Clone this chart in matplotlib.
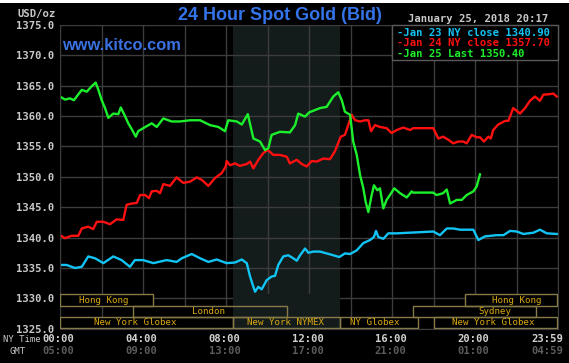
import matplotlib
matplotlib.use("Agg")
import matplotlib.pyplot as plt
from matplotlib.patches import Rectangle

# --- data (hours NY time, price) ---
jan23_t = [0.00, 0.32, 0.72, 1.05, 1.36, 1.69, 2.09, 2.57, 2.97, 3.37, 3.61, 4.01, 4.50, 5.14,
           5.62, 5.87, 6.35, 6.75, 7.15, 7.55, 8.03, 8.43, 8.76, 9.00, 9.16, 9.32, 9.40, 9.56,
           9.72, 9.96, 10.20, 10.36, 10.52, 10.76, 11.00, 11.24, 11.41, 11.57, 11.81, 11.97,
           12.21, 12.53, 12.85, 13.17, 13.46, 13.73, 13.98, 14.30, 14.62, 14.94, 15.13, 15.23,
           15.34, 15.58, 15.82, 16.23, 17.99, 18.31, 18.64, 18.95, 19.28, 19.92, 20.16, 20.48,
           21.05, 21.37, 21.69, 22.01, 22.33, 22.81, 23.13, 23.46, 23.94]
jan23_v = [1335.5, 1335.5, 1335.0, 1335.2, 1336.9, 1336.6, 1335.8, 1336.9, 1336.3, 1335.2,
           1336.3, 1336.3, 1335.8, 1336.3, 1336.0, 1336.6, 1337.3, 1336.6, 1336.0, 1336.4,
           1335.8, 1335.9, 1336.4, 1335.8, 1333.6, 1331.9, 1331.1, 1331.9, 1331.5, 1333.0,
           1333.6, 1333.7, 1335.5, 1336.9, 1337.1, 1336.6, 1336.2, 1337.1, 1338.2, 1337.5,
           1337.7, 1337.7, 1337.4, 1337.1, 1336.8, 1337.4, 1337.3, 1337.9, 1339.1, 1339.6,
           1340.1, 1341.1, 1340.1, 1339.8, 1340.7, 1340.7, 1341.0, 1340.4, 1341.5, 1341.5,
           1341.3, 1341.3, 1339.6, 1340.2, 1340.4, 1340.4, 1341.1, 1341.0, 1340.6, 1340.8,
           1341.3, 1340.7, 1340.6]

jan24_t = [0.00, 0.24, 0.56, 0.88, 1.05, 1.36, 1.60, 1.77, 2.09, 2.41, 2.73, 3.05, 3.21, 3.46,
           3.70, 3.86, 4.10, 4.29, 4.42, 4.66, 4.82, 4.98, 5.30, 5.62, 5.94, 6.27, 6.59, 6.83,
           7.15, 7.47, 7.79, 7.99, 8.03, 8.19, 8.43, 8.67, 9.00, 9.16, 9.32, 9.56, 9.80, 9.99,
           10.12, 10.28, 10.60, 10.93, 11.08, 11.41, 11.65, 11.89, 12.13, 12.37, 12.69, 13.01,
           13.25, 13.53, 13.73, 13.89, 14.06, 14.22, 14.46, 14.70, 14.86, 14.99, 15.18, 15.42,
           15.74, 15.98, 16.23, 16.54, 16.87, 17.03, 17.99, 18.23, 18.47, 18.71, 18.95, 19.20,
           19.44, 19.60, 19.84, 20.08, 20.24, 20.43, 20.64, 20.76, 20.88, 21.12, 21.45, 21.61,
           21.84, 22.17, 22.41, 22.65, 22.89, 23.13, 23.29, 23.61, 23.77, 23.94]
jan24_v = [1340.4, 1339.9, 1340.3, 1340.3, 1341.5, 1341.8, 1341.4, 1342.6, 1342.6, 1342.2,
           1343.0, 1342.9, 1345.4, 1345.6, 1345.7, 1347.0, 1347.0, 1346.5, 1347.6, 1347.7,
           1347.3, 1348.8, 1348.5, 1349.9, 1349.0, 1349.2, 1349.9, 1349.5, 1348.5, 1349.8,
           1350.6, 1351.7, 1352.6, 1351.9, 1352.2, 1351.8, 1352.1, 1352.5, 1351.4, 1352.8,
           1353.9, 1354.4, 1354.1, 1353.6, 1353.6, 1353.3, 1352.2, 1352.8, 1352.1, 1351.7,
           1352.6, 1352.5, 1353.0, 1352.9, 1354.2, 1356.6, 1356.9, 1358.5, 1360.2, 1359.3,
           1359.1, 1359.3, 1359.3, 1357.5, 1358.5, 1358.2, 1358.0, 1357.2, 1357.7, 1358.1,
           1357.7, 1358.0, 1358.0, 1356.3, 1356.6, 1356.1, 1355.5, 1355.8, 1355.8, 1355.5,
           1356.9, 1356.5, 1356.5, 1355.8, 1356.6, 1356.3, 1357.7, 1358.6, 1359.2, 1359.2,
           1361.3, 1360.4, 1361.3, 1362.5, 1363.2, 1362.5, 1363.5, 1363.6, 1363.7, 1363.2]

jan25_t = [0.00, 0.24, 0.48, 0.67, 1.05, 1.29, 1.53, 1.72, 1.85, 2.01, 2.17, 2.33, 2.57, 2.81,
           2.93, 3.13, 3.29, 3.48, 3.65, 3.77, 4.01, 4.42, 4.66, 4.98, 5.38, 5.78, 6.27, 6.75,
           7.23, 7.63, 7.95, 8.11, 8.52, 8.76, 9.05, 9.32, 9.64, 9.88, 10.04, 10.20, 10.60,
           11.08, 11.33, 11.48, 11.81, 12.01, 12.53, 12.85, 13.17, 13.41, 13.58, 13.73, 13.98,
           14.13, 14.30, 14.46, 14.62, 14.73, 14.86, 15.02, 15.13, 15.29, 15.42, 15.58, 15.74,
           15.90, 16.11, 16.39, 16.71, 16.95, 17.01, 17.98, 18.15, 18.46, 18.64, 18.80, 19.12,
           19.36, 19.60, 19.92, 20.08, 20.24]
jan25_v = [1363.2, 1362.7, 1362.9, 1362.6, 1364.3, 1364.0, 1364.9, 1365.5, 1364.3, 1362.6,
           1361.3, 1359.7, 1360.4, 1360.3, 1361.4, 1360.0, 1358.8, 1357.7, 1356.6, 1357.5,
           1358.0, 1358.8, 1358.2, 1359.6, 1359.1, 1359.1, 1359.3, 1359.3, 1358.5, 1358.2,
           1357.5, 1359.3, 1359.1, 1358.6, 1360.3, 1356.3, 1355.8, 1354.4, 1354.7, 1356.9,
           1357.4, 1357.3, 1358.5, 1360.4, 1359.9, 1360.6, 1361.3, 1361.5, 1363.2, 1363.9,
           1362.6, 1360.7, 1360.2, 1355.8, 1353.6, 1350.3, 1348.1, 1345.9, 1344.2, 1347.0,
           1348.6, 1347.8, 1348.1, 1344.8, 1346.2, 1347.0, 1348.1, 1347.3, 1346.6, 1347.6,
           1347.4, 1347.4, 1347.0, 1347.3, 1347.9, 1345.6, 1346.2, 1346.2, 1347.0, 1347.6,
           1348.4, 1350.4]

legend_labels = ["-Jan 23 NY close 1340.90", "-Jan 24 NY close 1357.70", "-Jan 25 Last 1350.40"]
series_colors = ["#12c4f4", "#ff1010", "#1cf02c"]

ny_labels = ["00:00", "04:00", "08:00", "12:00", "16:00", "20:00", "23:59"]
gmt_labels = ["05:00", "09:00", "13:00", "17:00", "21:00", "01:00", "04:59"]
label_hours = [0, 4, 8, 12, 16, 20, 24]

# sessions: (name, start hour, end hour, row, label hour)
sessions = [
    ("Hong Kong", 0.0, 4.5, 0, 2.1),
    ("London", 3.5, 10.95, 1, 7.15),
    ("New York Globex", 0.0, 8.33, 2, 3.65),
    ("New York NYMEX", 8.33, 13.5, 2, 10.85),
    ("NY Globex", 13.5, 17.25, 2, 15.15),
    ("New York Globex", 18.0, 23.95, 2, 20.9),
    ("Sydney", 17.0, 22.95, 1, 20.95),
    ("Hong Kong", 19.5, 23.95, 0, 22.0),
]
row_bottoms = [1328.8, 1326.95, 1325.05]
row_h = 1.87

nymex_open, nymex_close = 8.33, 13.5

W, H = 569, 363
def fx(x):
    return x / W
def fy(y):
    return 1 - y / H

mono = "DejaVu Sans Mono"
grid_c = "#3c3c3c"
shade_c = "#131b1b"

fig = plt.figure(figsize=(W / 100, H / 100), dpi=100, facecolor="black")
ax = fig.add_axes([fx(60), fy(328.8), (558 - 60) / W, (328.8 - 24.8) / H])
ax.set_facecolor("black")
ax.set_xlim(0, 24)
ax.set_ylim(1325, 1375)

ax.axvspan(nymex_open, nymex_close, color=shade_c, zorder=0.1, lw=0)

ax.set_xticks(range(0, 25, 2))
ax.set_xticklabels([])
ax.set_yticks(range(1325, 1376, 5))
ax.set_yticklabels([f"{v:.1f}" for v in range(1325, 1376, 5)])
ax.tick_params(length=0, pad=4, labelsize=7.6, labelcolor="#c8c8c8")
for lab in ax.get_yticklabels():
    lab.set_fontfamily(mono)
    lab.set_fontweight("bold")
ax.grid(True, color=grid_c, lw=1)
ax.set_axisbelow(True)
for s in ax.spines.values():
    s.set_color(grid_c)

# session boxes
for name, t0, t1, row, tl in sessions:
    ax.add_patch(Rectangle((t0, row_bottoms[row]), t1 - t0, row_h, facecolor="black",
                           edgecolor="none", zorder=1.0))
ax.add_patch(Rectangle((nymex_open, 1325), nymex_close - nymex_open, 5.7, facecolor=shade_c,
                       edgecolor="none", zorder=1.1))
for name, t0, t1, row, tl in sessions:
    ax.add_patch(Rectangle((t0, row_bottoms[row]), t1 - t0, row_h, facecolor="none",
                           edgecolor="#857a48", lw=1, zorder=3))
    ax.text(tl, row_bottoms[row] + row_h / 2, name, ha="center", va="center", color="#dcaa10",
            fontsize=6.6, family=mono, zorder=4)

# price lines
for t, v, c in [(jan23_t, jan23_v, series_colors[0]), (jan24_t, jan24_v, series_colors[1]),
                (jan25_t, jan25_v, series_colors[2])]:
    ax.plot(t, v, color=c, lw=1.7, zorder=2.5)

# legend box
ax.add_patch(Rectangle((16.0, 1369.2), 8.0, 5.8, facecolor="black", edgecolor="#5a5a5a",
                       lw=1, zorder=3, clip_on=False))
for i, (lab, c) in enumerate(zip(legend_labels, series_colors)):
    fig.text(fx(397), fy(32.5 + i * 10.6), lab, color=c, fontsize=7.6, family=mono,
             fontweight="bold", ha="left", va="center")

# header texts
fig.text(fx(280), fy(15), "24 Hour Spot Gold (Bid)", color="#3474ea", fontsize=13,
         family="Liberation Sans", fontweight="bold", ha="center", va="center")
fig.text(fx(62), fy(45), "www.kitco.com", color="#3a72e2", fontsize=11.8,
         family="Liberation Sans", fontweight="bold", ha="left", va="center")
fig.text(fx(56), fy(14), "USD/oz", color="#c8c8c8", fontsize=7.6, family=mono,
         fontweight="bold", ha="right", va="center")
fig.text(fx(548), fy(19), "January 25, 2018 20:17", color="#c8c8c8", fontsize=7.6,
         family=mono, fontweight="bold", ha="right", va="center")

# time axis labels
fig.text(fx(3), fy(339), "NY Time", color="#c8c8c8", fontsize=6.4, family=mono,
         ha="left", va="center")
fig.text(fx(10), fy(351), "GMT", color="#c8c8c8", fontsize=6.4, family=mono,
         ha="left", va="center")
for h, ny, gmt in zip(label_hours, ny_labels, gmt_labels):
    px = 60 + h * 20.75 - 1.5
    ha = "center"
    if h == 24:
        px, ha = 563, "right"
    fig.text(fx(px), fy(339), ny, color="#d2d2d2", fontsize=7.6, family=mono,
             fontweight="bold", ha=ha, va="center")
    fig.text(fx(px), fy(351), gmt, color="#5c5c5c", fontsize=7.6, family=mono,
             fontweight="bold", ha=ha, va="center")

fig.patches.append(Rectangle((0, fy(3)), 1, 3 / H, transform=fig.transFigure,
                             facecolor="white", edgecolor="none"))

fig.savefig("out.png", dpi=100, facecolor="black")
